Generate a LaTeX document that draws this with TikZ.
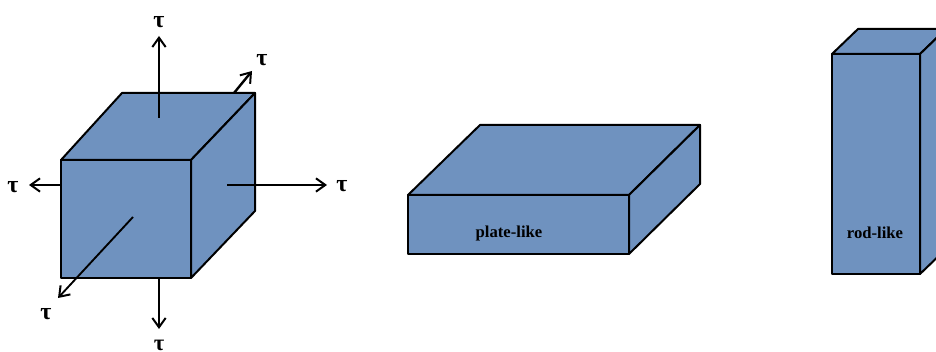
\documentclass[tikz,border=0pt]{standalone}
\usepackage{fontspec}
\setmainfont{Liberation Serif}
\usetikzlibrary{arrows.meta}
\definecolor{boxblue}{HTML}{6F92BF}
\tikzset{
  px/.style={x=0.75pt,y=-0.75pt},
  face/.style={draw=black,fill=boxblue,line width=1.5pt,line join=round},
  frontface/.style={face,line width=2pt},
  force/.style={draw=black,line width=1.8pt,-{Straight Barb[length=7pt,width=10pt,line width=1.5pt]}},
  thinforce/.style={force,line width=1.4pt},
  taulabel/.style={font=\fontsize{18}{18}\selectfont\bfseries,inner sep=0pt,text=black},
  lowtaulabel/.style={font=\fontsize{17}{17}\selectfont\bfseries,inner sep=0pt,text=black},
  shapelabel/.style={font=\fontsize{12.5}{14}\selectfont\bfseries,inner sep=0pt,text=black}
}
\begin{document}
\begin{tikzpicture}[px]
\useasboundingbox (0,0) rectangle (936,352);
\clip (0,0) rectangle (936,352);
% stress arrows behind the cube
\coordinate (backstart) at (234,93);
\node[taulabel] (tauback) at (262,60) {τ};
\coordinate (backend) at (252,71);
\draw[force] (backstart) -- (backend);
% cube
\coordinate (cA) at (61,160);
\coordinate (cB) at (191,160);
\coordinate (cC) at (191,278);
\coordinate (cD) at (61,278);
\coordinate (cE) at (122,93);
\coordinate (cF) at (255,93);
\coordinate (cG) at (255,211);
\draw[face] (cA) -- (cE) -- (cF) -- (cB) -- cycle;
\draw[face] (cB) -- (cF) -- (cG) -- (cC) -- cycle;
\draw[frontface] (cA) -- (cB) -- (cC) -- (cD) -- cycle;
% arrows on the cube
\coordinate (upstart) at (159,118);
\coordinate (upend) at (159,36);
\coordinate (leftstart) at (60,185);
\coordinate (leftend) at (29,185);
\coordinate (rightstart) at (227,185);
\coordinate (rightend) at (327,185);
\coordinate (frontstart) at (133,217);
\coordinate (frontend) at (58,298);
\coordinate (downstart) at (159,279);
\coordinate (downend) at (159,329);
\draw[force] (upstart) -- (upend);
\draw[thinforce] (leftstart) -- (leftend);
\draw[thinforce] (rightstart) -- (rightend);
\draw[thinforce] (frontstart) -- (frontend);
\draw[thinforce] (downstart) -- (downend);
\node[taulabel] (tauup) at (159,22) {τ};
\node[taulabel] (tauleft) at (13,187) {τ};
\node[taulabel] (tauright) at (342,186) {τ};
\node[taulabel] (taufront) at (46,314) {τ};
\node[lowtaulabel] (taudown) at (159,345) {τ};
% plate
\coordinate (pA) at (408,195);
\coordinate (pB) at (629,195);
\coordinate (pC) at (629,254);
\coordinate (pD) at (408,254);
\coordinate (pE) at (480,125);
\coordinate (pF) at (700,125);
\coordinate (pG) at (700,184);
\draw[face] (pA) -- (pE) -- (pF) -- (pB) -- cycle;
\draw[face] (pB) -- (pF) -- (pG) -- (pC) -- cycle;
\draw[frontface] (pA) -- (pB) -- (pC) -- (pD) -- cycle;
\node[shapelabel] (platelabel) at (509,233) {plate-like};
% rod
\coordinate (rA) at (832,54);
\coordinate (rB) at (920,54);
\coordinate (rC) at (920,274);
\coordinate (rD) at (832,274);
\coordinate (rE) at (858,29);
\coordinate (rF) at (946,29);
\coordinate (rG) at (946,249);
\draw[face] (rA) -- (rE) -- (rF) -- (rB) -- cycle;
\draw[face] (rB) -- (rF) -- (rG) -- (rC) -- cycle;
\draw[frontface] (rA) -- (rB) -- (rC) -- (rD) -- cycle;
\node[shapelabel] (rodlabel) at (875,233) {rod-like};
\end{tikzpicture}
\end{document}
